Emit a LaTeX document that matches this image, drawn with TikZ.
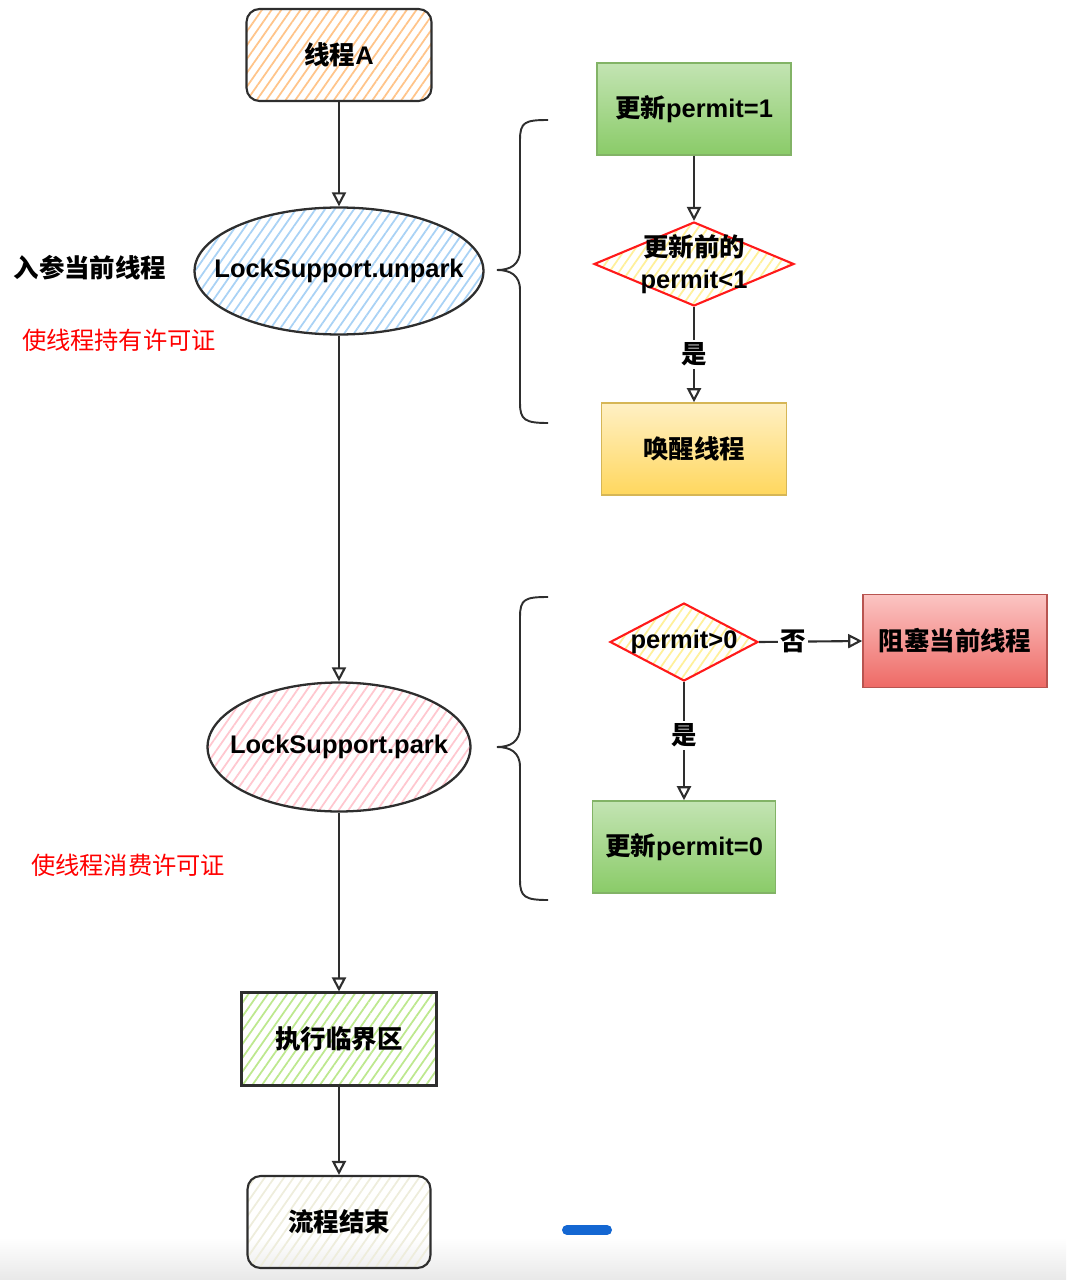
\documentclass[tikz,border=0pt]{standalone}
\usepackage{fontspec}
\setmainfont{Liberation Sans}
\newfontfamily\cjk{Noto Sans CJK SC}
\usetikzlibrary{arrows.meta, shapes.geometric, positioning, patterns.meta}

\definecolor{linegray}{HTML}{2E2E2E}
\definecolor{notered}{HTML}{FF0000}
\definecolor{diared}{HTML}{FF1A1A}
\definecolor{hatchorange}{HTML}{FFC48A}
\definecolor{hatchblue}{HTML}{A9D2F5}
\definecolor{hatchpink}{HTML}{FFC7CF}
\definecolor{hatchlime}{HTML}{BDE88E}
\definecolor{hatchyellow}{HTML}{FFF09A}
\definecolor{hatchbeige}{HTML}{EEEDDC}
\definecolor{greentop}{HTML}{C3E4B3}
\definecolor{greenbot}{HTML}{8ACB68}
\definecolor{greenline}{HTML}{82B366}
\definecolor{yellowtop}{HTML}{FFF0C4}
\definecolor{yellowbot}{HTML}{FFD75E}
\definecolor{yellowline}{HTML}{D6B656}
\definecolor{redtop}{HTML}{FBC4C2}
\definecolor{redbot}{HTML}{EE6A66}
\definecolor{redline}{HTML}{B85450}
\definecolor{barblue}{HTML}{1467D2}

\tikzset{
    box-font/.style={font=\bfseries\fontsize{14.5}{18}\selectfont, align=center},
    hatch/.style={pattern={Lines[angle=55, distance=4.5pt, line width=1pt]}, pattern color=#1},
    sketch-box/.style={
        rectangle, draw=linegray, line width=1.2pt, inner sep=0pt, box-font,
        minimum width=3.7cm, minimum height=1.84cm
    },
    round-box/.style={sketch-box, rounded corners=0.26cm},
    grad-box/.style={
        sketch-box, top color=#1top, bottom color=#1bot, draw=#1line, line width=0.9pt
    },
    oval-box/.style={ellipse, draw=linegray, line width=1.3pt, inner sep=0pt},
    decision/.style={diamond, draw=diared, line width=1.2pt, inner sep=0pt, hatch=hatchyellow},
    flow/.style={-{Triangle[open, length=8pt, width=8pt]}, draw=linegray, line width=1.2pt},
    flow-label/.style={fill=white, inner sep=1.5pt, box-font},
    note/.style={font=\cjk\fontsize{13.8}{16}\selectfont, text=notered},
    curly/.pic={
        \draw[draw=linegray, line width=1.1pt]
            (0,0) .. controls (-23,0) and (-28,2) .. (-28,20) -- (-28,130)
            .. controls (-28,145) and (-38,150) .. (-51,150)
            .. controls (-38,150) and (-28,155) .. (-28,170) -- (-28,283)
            .. controls (-28,300) and (-23,303) .. (0,303);
    },
}

\begin{document}
\begin{tikzpicture}[x=0.02cm, y=-0.02cm]

        \useasboundingbox (0,0) rectangle (1066,1280);
        \shade[top color=white, bottom color=black!9] (0,1238) rectangle (1066,1280);

        % MAIN FLOW
        \node[round-box, hatch=hatchorange] (THREADA)  at (339,55)   {{\cjk 线程}A};
        \node[oval-box, hatch=hatchblue, minimum width=5.78cm, minimum height=2.54cm,
              label={[box-font]center:LockSupport.unpark}] (UNPARK) at (339,271) {};
        \node[oval-box, hatch=hatchpink, minimum width=5.26cm, minimum height=2.58cm,
              label={[box-font]center:LockSupport.park}]   (PARK)   at (339,747) {};
        \node[sketch-box, hatch=hatchlime, minimum width=3.9cm, minimum height=1.86cm]
                                                        (CRITICAL) at (339,1039) {\cjk 执行临界区};
        \node[round-box, hatch=hatchbeige, minimum width=3.66cm] (FINISH) at (339,1222) {\cjk 流程结束};

        % NOTES
        \node[box-font] (NOTEARG)     at (90,268)  {\cjk 入参当前线程};
        \node[note]     (NOTEHOLD)    at (119,340) {使线程持有许可证};
        \node[note]     (NOTECONSUME) at (128,865) {使线程消费许可证};

        % UNPARK BRANCH
        \node[grad-box=green, minimum width=3.88cm]  (SETONE)   at (694,109) {{\cjk 更新}permit=1};
        \node[decision, minimum width=4cm, minimum height=1.68cm,
              label={[box-font]center:{\cjk 更新前的}\\permit<1}] (CHECKONE) at (694,264) {};
        \node[grad-box=yellow]                       (WAKE)     at (694,449) {\cjk 唤醒线程};

        % PARK BRANCH
        \node[decision, minimum width=2.96cm, minimum height=1.56cm,
              label={[box-font]center:permit>0}]     (CHECKZERO) at (684,642) {};
        \node[grad-box=red, minimum width=3.68cm, minimum height=1.86cm] (BLOCK) at (955,641) {\cjk 阻塞当前线程};
        \node[grad-box=green, minimum width=3.66cm]  (SETZERO)  at (684,847) {{\cjk 更新}permit=0};

        % BRACES
        \pic at (548,120) {curly};
        \pic at (548,597) {curly};

        % MAIN CONNECTIONS
        \draw[flow] (THREADA)  -- (UNPARK);
        \draw[flow] (UNPARK)   -- (PARK);
        \draw[flow] (PARK)     -- (CRITICAL);
        \draw[flow] (CRITICAL) -- (FINISH);

        % BRANCH CONNECTIONS
        \draw[flow] (SETONE)   -- (CHECKONE);
        \draw[flow] (CHECKONE) -- node[flow-label] {\cjk 是} (WAKE);
        \draw[flow] (CHECKZERO.east)  -- node[flow-label, pos=.33] {\cjk 否} (BLOCK.west);
        \draw[flow] (CHECKZERO.south) -- node[flow-label, pos=.45] {\cjk 是} (SETZERO.north);

        % SCROLL MARK
        \draw[barblue, line width=0.2cm, line cap=round] (567,1230) -- (607,1230);

\end{tikzpicture}
\end{document}
